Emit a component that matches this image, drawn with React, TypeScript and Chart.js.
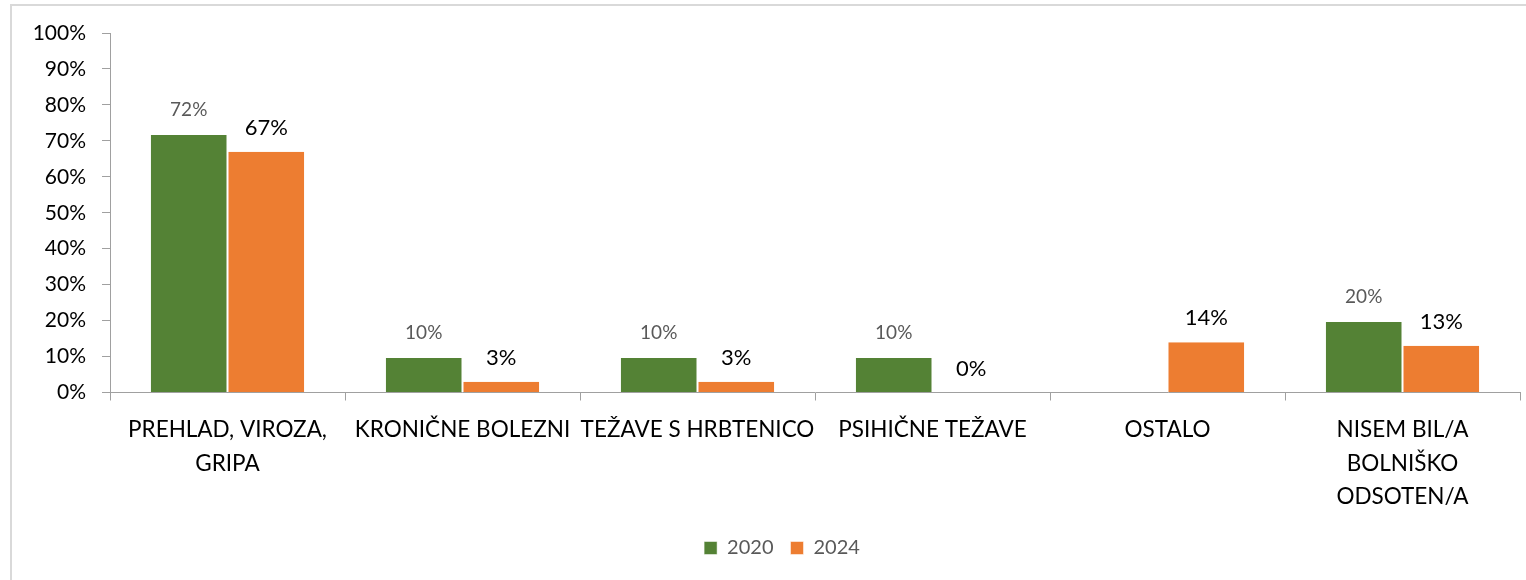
import React, { useEffect, useRef } from "react";
import { Chart, registerables } from "chart.js";

Chart.register(...registerables);

const categories: string[][] = [
  ["PREHLAD, VIROZA,", "GRIPA"],
  ["KRONIČNE BOLEZNI"],
  ["TEŽAVE S HRBTENICO"],
  ["PSIHIČNE TEŽAVE"],
  ["OSTALO"],
  ["NISEM BIL/A", "BOLNIŠKO", "ODSOTEN/A"],
];

const series2020: (number | null)[] = [71.6, 9.6, 9.6, 9.6, null, 19.6];
const series2024: (number | null)[] = [67, 3, 3, 0, 14, 13];

const seriesNames = ["2020", "2024"];
const yTicks = [0, 10, 20, 30, 40, 50, 60, 70, 80, 90, 100];

const GREEN = "#548235";
const ORANGE = "#ED7D31";
const AXIS = "#a0a0a0";
const FONT = "Lato";

const CW = 1545;
const CH = 576;

const dataLabelPlugin = {
  id: "dataLabels",
  afterDatasetsDraw(chart: any) {
    const ctx = chart.ctx;
    const styles = [
      { color: "#595959", font: `19px ${FONT}`, offset: 25 },
      { color: "#000000", font: `22px ${FONT}`, offset: 24 },
    ];
    chart.data.datasets.forEach((ds: any, di: number) => {
      const meta = chart.getDatasetMeta(di);
      const st = styles[di];
      meta.data.forEach((el: any, i: number) => {
        const v = ds.data[i];
        if (v === null || v === undefined) return;
        ctx.save();
        ctx.font = st.font;
        ctx.fillStyle = st.color;
        ctx.textAlign = "center";
        ctx.textBaseline = "middle";
        ctx.fillText(Math.round(v) + "%", el.x, el.y - st.offset);
        ctx.restore();
      });
    });
  },
};

// Centre the legend on the whole frame (which extends past the right edge), as in the source.
const legendShiftPlugin = {
  id: "legendShift",
  afterLayout(chart: any) {
    const lg = chart.legend;
    if (!lg) return;
    lg.left += 17;
    lg.right += 17;
  },
};

export default function App() {
  const ref = useRef<HTMLCanvasElement | null>(null);

  useEffect(() => {
    if (!ref.current) return;
    const chart = new Chart(ref.current, {
      type: "bar",
      data: {
        labels: categories,
        datasets: [
          {
            label: seriesNames[0],
            data: series2020,
            backgroundColor: GREEN,
            borderColor: "#ffffff",
            borderWidth: { left: 1, right: 1, top: 0, bottom: 0 },
            categoryPercentage: 0.66,
            barPercentage: 1,
          },
          {
            label: seriesNames[1],
            data: series2024,
            backgroundColor: ORANGE,
            borderColor: "#ffffff",
            borderWidth: { left: 1, right: 1, top: 0, bottom: 0 },
            categoryPercentage: 0.66,
            barPercentage: 1,
          },
        ],
      },
      options: {
        animation: false,
        responsive: false,
        devicePixelRatio: 1,
        layout: { padding: { top: 29, left: 0, right: 35, bottom: 12 } },
        plugins: {
          tooltip: { enabled: false },
          legend: {
            position: "bottom",
            labels: {
              boxWidth: 13,
              boxHeight: 13,
              padding: 17,
              color: "#595959",
              font: { family: FONT, size: 20 },
            },
          },
        },
        scales: {
          x: {
            grid: {
              offset: true,
              drawOnChartArea: false,
              drawTicks: true,
              tickLength: 8,
              color: AXIS,
            },
            border: { display: true, color: AXIS, width: 1 },
            ticks: {
              color: "#000000",
              font: { family: FONT, size: 22.5, lineHeight: 1.48 },
              padding: 13,
              maxRotation: 0,
              minRotation: 0,
              autoSkip: false,
            },
            afterFit(scale: any) {
              scale.height = 128.5;
            },
          },
          y: {
            min: 0,
            max: 100,
            afterBuildTicks(scale: any) {
              scale.ticks = yTicks.map((v) => ({ value: v }));
            },
            grid: {
              drawOnChartArea: false,
              drawTicks: true,
              tickLength: 8,
              color: AXIS,
            },
            border: { display: true, color: AXIS, width: 1 },
            ticks: {
              color: "#000000",
              font: { family: FONT, size: 21 },
              padding: 16,
              callback: (v: any) => v + "%",
            },
            afterFit(scale: any) {
              scale.width = 100;
            },
          },
        },
      },
      plugins: [dataLabelPlugin, legendShiftPlugin],
    } as any);
    return () => chart.destroy();
  }, []);

  return (
    <div
      style={{
        position: "absolute",
        left: 0,
        top: 0,
        width: 1526,
        height: 580,
        overflow: "hidden",
        background: "#ffffff",
      }}
    >
      <div
        style={{
          position: "absolute",
          left: 10,
          top: 4,
          width: 1700,
          height: 800,
          borderLeft: "2px solid #d9d9d9",
          borderTop: "2px solid #d9d9d9",
        }}
      />
      <canvas
        ref={ref}
        width={CW}
        height={CH}
        style={{ position: "absolute", left: 10, top: 4, width: CW, height: CH }}
      />
    </div>
  );
}
